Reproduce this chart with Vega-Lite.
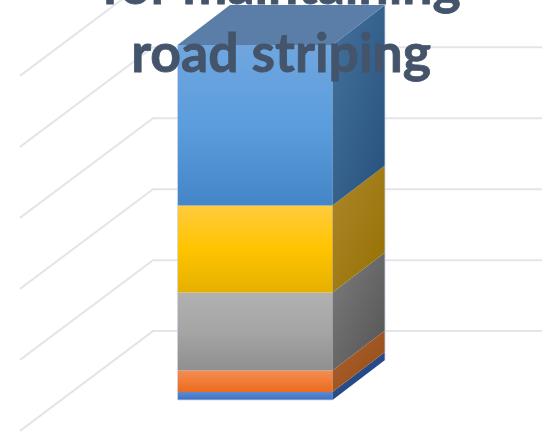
{"$schema":"https://vega.github.io/schema/vega-lite/v6.json","width":552,"height":433,"autosize":{"type":"fit","contains":"padding"},"padding":0,"background":"#ffffff","config":{"view":{"stroke":null}},
"datasets":{
"grid":[
{"g":0,"x":-101.6,"y":-8.7},{"g":0,"x":-15.8,"y":19.4},{"g":0,"x":235.2,"y":19.4},
{"g":20,"x":-101.6,"y":11.3},{"g":20,"x":-15.8,"y":39.4},{"g":20,"x":235.2,"y":39.4},
{"g":40,"x":-101.6,"y":31.3},{"g":40,"x":-15.8,"y":59.4},{"g":40,"x":235.2,"y":59.4},
{"g":60,"x":-101.6,"y":51.3},{"g":60,"x":-15.8,"y":79.4},{"g":60,"x":235.2,"y":79.4},
{"g":80,"x":-101.6,"y":71.3},{"g":80,"x":-15.8,"y":99.4},{"g":80,"x":235.2,"y":99.4},
{"g":100,"x":-101.6,"y":91.3},{"g":100,"x":-15.8,"y":119.4},{"g":100,"x":235.2,"y":119.4}],
"front":[
{"s":"a","x":0,"x2":100,"y":0,"y2":2.25},
{"s":"b","x":0,"x2":100,"y":2.25,"y2":8.31},
{"s":"c","x":0,"x2":100,"y":8.31,"y2":30.28},
{"s":"d","x":0,"x2":100,"y":30.28,"y2":54.79},
{"s":"e","x":0,"x2":100,"y":54.79,"y2":100}],
"side":[
{"s":"a","x":100,"y":0,"y2":2.25},{"s":"a","x":133.87,"y":11.27,"y2":13.52},
{"s":"b","x":100,"y":2.25,"y2":8.31},{"s":"b","x":133.87,"y":13.52,"y2":19.58},
{"s":"c","x":100,"y":8.31,"y2":30.28},{"s":"c","x":133.87,"y":19.58,"y2":41.55},
{"s":"d","x":100,"y":30.28,"y2":54.79},{"s":"d","x":133.87,"y":41.55,"y2":66.06},
{"s":"e","x":100,"y":54.79,"y2":100},{"s":"e","x":133.87,"y":66.06,"y2":111.27}],
"top":[{"x":0,"x2":100,"y":100},{"x":33.87,"x2":133.87,"y":111.27}],
"edge":[{"e":"l","x":0,"y":100},{"e":"l","x":0,"y":0},{"e":"l","x":100,"y":0},{"e":"r","x":133.87,"y":11.27},{"e":"r","x":133.87,"y":111.27}],
"title":[{"t":"for maintaining","x":66.8,"y":111.6},{"t":"road striping","x":66.8,"y":92.5}]
},
"encoding":{
"x":{"field":"x","type":"quantitative","axis":null,"scale":{"domain":[-114.5,241.6],"nice":false,"zero":false}},
"y":{"field":"y","type":"quantitative","axis":null,"stack":null,"scale":{"domain":[-9.3,112.68],"nice":false,"zero":false}}
},
"layer":[
{"data":{"name":"grid"},"mark":{"type":"line","clip":true,"stroke":"#e3e5ea","strokeWidth":2,"interpolate":"linear"},"encoding":{"detail":{"field":"g"}}},
{"data":{"name":"front"},"transform":[{"filter":"datum.s==='a'"}],"mark":{"type":"rect","fill":{"gradient":"linear","x1":0,"y1":0,"x2":0,"y2":1,"stops":[{"offset":0,"color":"#5b8bd6"},{"offset":1,"color":"#3f70c2"}]}},"encoding":{"x2":{"field":"x2"},"y2":{"field":"y2"}}},
{"data":{"name":"front"},"transform":[{"filter":"datum.s==='b'"}],"mark":{"type":"rect","fill":{"gradient":"linear","x1":0,"y1":0,"x2":0,"y2":1,"stops":[{"offset":0,"color":"#f68d50"},{"offset":1,"color":"#eb6b1d"}]}},"encoding":{"x2":{"field":"x2"},"y2":{"field":"y2"}}},
{"data":{"name":"front"},"transform":[{"filter":"datum.s==='c'"}],"mark":{"type":"rect","fill":{"gradient":"linear","x1":0,"y1":0,"x2":0,"y2":1,"stops":[{"offset":0,"color":"#b1b1b1"},{"offset":0.5,"color":"#a5a5a5"},{"offset":1,"color":"#8f8f8f"}]}},"encoding":{"x2":{"field":"x2"},"y2":{"field":"y2"}}},
{"data":{"name":"front"},"transform":[{"filter":"datum.s==='d'"}],"mark":{"type":"rect","fill":{"gradient":"linear","x1":0,"y1":0,"x2":0,"y2":1,"stops":[{"offset":0,"color":"#ffcb3d"},{"offset":0.5,"color":"#ffc400"},{"offset":1,"color":"#e5b000"}]}},"encoding":{"x2":{"field":"x2"},"y2":{"field":"y2"}}},
{"data":{"name":"front"},"transform":[{"filter":"datum.s==='e'"}],"mark":{"type":"rect","fill":{"gradient":"linear","x1":0,"y1":0,"x2":0,"y2":1,"stops":[{"offset":0,"color":"#70a6df"},{"offset":0.5,"color":"#5b9ddd"},{"offset":1,"color":"#4485c7"}]}},"encoding":{"x2":{"field":"x2"},"y2":{"field":"y2"}}},
{"data":{"name":"side"},"transform":[{"filter":"datum.s==='a'"}],"mark":{"type":"area","orient":"vertical","fill":{"gradient":"linear","x1":0,"y1":0,"x2":1,"y2":1,"stops":[{"offset":0,"color":"#2f5597"},{"offset":1,"color":"#1f3f7a"}]}},"encoding":{"y2":{"field":"y2"}}},
{"data":{"name":"side"},"transform":[{"filter":"datum.s==='b'"}],"mark":{"type":"area","orient":"vertical","fill":{"gradient":"linear","x1":0,"y1":0,"x2":1,"y2":1,"stops":[{"offset":0,"color":"#ad6332"},{"offset":1,"color":"#944a12"}]}},"encoding":{"y2":{"field":"y2"}}},
{"data":{"name":"side"},"transform":[{"filter":"datum.s==='c'"}],"mark":{"type":"area","orient":"vertical","fill":{"gradient":"linear","x1":0,"y1":0,"x2":1,"y2":1,"stops":[{"offset":0,"color":"#7c7c7c"},{"offset":1,"color":"#535353"}]}},"encoding":{"y2":{"field":"y2"}}},
{"data":{"name":"side"},"transform":[{"filter":"datum.s==='d'"}],"mark":{"type":"area","orient":"vertical","fill":{"gradient":"linear","x1":0,"y1":0,"x2":1,"y2":1,"stops":[{"offset":0,"color":"#ad872c"},{"offset":1,"color":"#957000"}]}},"encoding":{"y2":{"field":"y2"}}},
{"data":{"name":"side"},"transform":[{"filter":"datum.s==='e'"}],"mark":{"type":"area","orient":"vertical","fill":{"gradient":"linear","x1":0,"y1":0,"x2":1,"y2":1,"stops":[{"offset":0,"color":"#45719e"},{"offset":1,"color":"#26517c"}]}},"encoding":{"y2":{"field":"y2"}}},
{"data":{"name":"top"},"mark":{"type":"area","orient":"horizontal","fill":"#5a7ea8"},"encoding":{"x2":{"field":"x2"}}},
{"data":{"name":"edge"},"mark":{"type":"line","stroke":"#cdd7e6","strokeWidth":1,"opacity":0.8},"encoding":{"detail":{"field":"e"}}},
{"data":{"name":"title"},"mark":{"type":"text","font":"Lato","fontWeight":"bold","fontSize":53.5,"fill":"#44546a","stroke":"#44546a","strokeWidth":0.8,"align":"center","baseline":"alphabetic","clip":true},"encoding":{"text":{"field":"t"}}}
]}
